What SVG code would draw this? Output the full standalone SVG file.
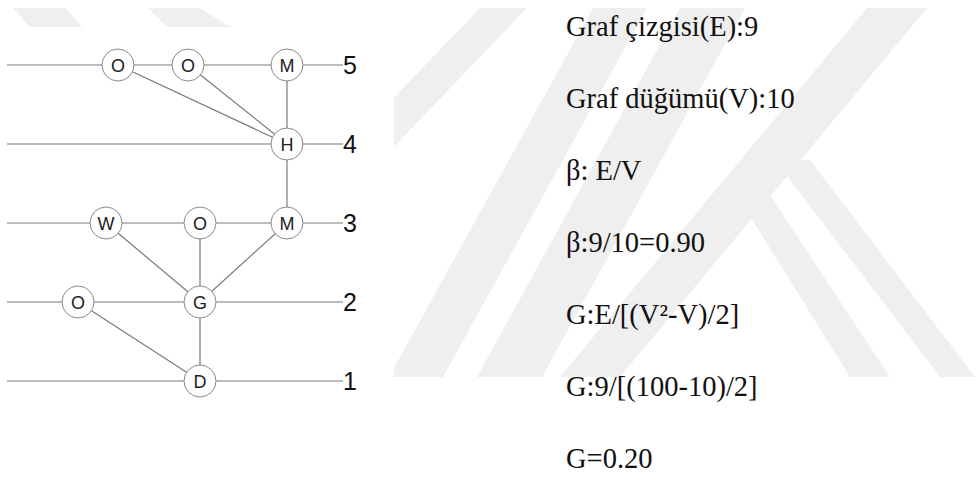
<svg xmlns="http://www.w3.org/2000/svg" width="980" height="479" viewBox="0 0 980 479">
<style>
.wm{fill:#efefef}
.ln{stroke:#7a7a7a;stroke-width:1.2;fill:none}
.nd circle{fill:#fff;stroke:#8a8a8a;stroke-width:1}
.nd text{font-family:"Liberation Sans",Arial,sans-serif;font-size:18px;fill:#222;text-anchor:middle}
.lvl{font-family:"Liberation Sans",Arial,sans-serif;font-size:25px;fill:#111}
.eq{font-family:"Liberation Serif","Times New Roman",serif;font-size:28.5px;fill:#111}
</style>
<defs>
<clipPath id="wmclip"><rect x="394" y="8" width="582" height="369"/></clipPath>
</defs>
<rect width="980" height="479" fill="#fff"/>
<g id="watermark">
<polygon class="wm" points="13,8 66,8 82,27 30,27"/>
<polygon class="wm" points="148,8 200,8 230,27 167,27"/>
<g clip-path="url(#wmclip)">
<polygon class="wm" points="480,8 527,8 173,377 126,377"/>
<polygon class="wm" points="593,8 647,8 443,377 389,377"/>
<polygon class="wm" points="680,8 745,8 542,377 477,377"/>
<polygon class="wm" points="867,8 927,8 620,377 560,377"/>
<polygon class="wm" points="775,160 810,160 975,377 940,377"/>
<polygon class="wm" points="740,200 760,180 890,377 850,377"/>
</g>
</g>
<g id="connectors">
<line class="ln" x1="7" y1="65" x2="343" y2="65"/>
<line class="ln" x1="7" y1="144" x2="343" y2="144"/>
<line class="ln" x1="7" y1="223" x2="343" y2="223"/>
<line class="ln" x1="7" y1="302" x2="343" y2="302"/>
<line class="ln" x1="7" y1="381" x2="343" y2="381"/>
<line class="ln" x1="118" y1="65" x2="287" y2="144"/>
<line class="ln" x1="188" y1="65" x2="287" y2="144"/>
<line class="ln" x1="287" y1="65" x2="287" y2="223"/>
<line class="ln" x1="106" y1="223" x2="200" y2="302"/>
<line class="ln" x1="200" y1="223" x2="200" y2="381"/>
<line class="ln" x1="287" y1="223" x2="200" y2="302"/>
<line class="ln" x1="78" y1="302" x2="200" y2="381"/>
</g>
<g id="n-o1" class="nd"><circle cx="118" cy="65" r="16"/><text x="118" y="71.5">O</text></g>
<g id="n-o2" class="nd"><circle cx="188" cy="65" r="16"/><text x="188" y="71.5">O</text></g>
<g id="n-m5" class="nd"><circle cx="287" cy="65" r="16"/><text x="287" y="71.5">M</text></g>
<g id="n-h" class="nd"><circle cx="287" cy="144" r="16"/><text x="287" y="150.5">H</text></g>
<g id="n-w" class="nd"><circle cx="106" cy="223" r="16"/><text x="106" y="229.5">W</text></g>
<g id="n-o3" class="nd"><circle cx="200" cy="223" r="16"/><text x="200" y="229.5">O</text></g>
<g id="n-m3" class="nd"><circle cx="287" cy="223" r="16"/><text x="287" y="229.5">M</text></g>
<g id="n-o4" class="nd"><circle cx="78" cy="302" r="16"/><text x="78" y="308.5">O</text></g>
<g id="n-g" class="nd"><circle cx="200" cy="302" r="16"/><text x="200" y="308.5">G</text></g>
<g id="n-d" class="nd"><circle cx="200" cy="381" r="16"/><text x="200" y="387.5">D</text></g>
<g id="levels">
<text class="lvl" x="343" y="74">5</text>
<text class="lvl" x="343" y="153">4</text>
<text class="lvl" x="343" y="232">3</text>
<text class="lvl" x="343" y="311">2</text>
<text class="lvl" x="343" y="390">1</text>
</g>
<g id="formulas">
<text class="eq" x="566" y="36">Graf çizgisi(E):9</text>
<text class="eq" x="566" y="108">Graf düğümü(V):10</text>
<text class="eq" x="566" y="180">β: E/V</text>
<text class="eq" x="566" y="252">β:9/10=0.90</text>
<text class="eq" x="566" y="324">G:E/[(V²-V)/2]</text>
<text class="eq" x="566" y="396">G:9/[(100-10)/2]</text>
<text class="eq" x="566" y="468">G=0.20</text>
</g>
</svg>
